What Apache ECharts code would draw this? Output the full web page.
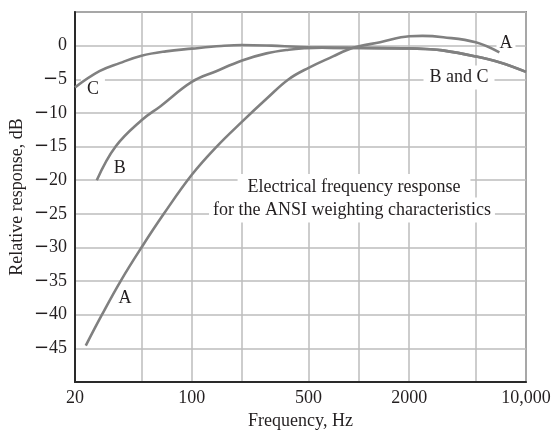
<!DOCTYPE html>
<html><head><meta charset="utf-8">
<script src="https://cdn.jsdelivr.net/npm/echarts@6/dist/echarts.min.js"></script>
<style>html,body{margin:0;padding:0;background:#fff}#c{width:553px;height:432px}</style>
</head><body><div id="c"></div>
<script>
// Frequency (Hz) and relative response (dB)
const freqA = [23.2, 29, 37.5, 50, 68, 100, 141, 200, 280, 380, 500, 700, 850, 1000, 1340, 2000, 2400, 3200, 5000, 6930];
const dbA   = [-44.6, -40, -35, -30, -25, -19.2, -15, -11.3, -7.9, -5, -3.3, -1.6, -0.65, -0.1, 0.5, 1.4, 1.45, 1.25, 0.5, -1.0];

const freqB = [27, 35, 50, 65, 100, 140, 200, 280, 380, 480];
const dbB   = [-20, -15, -11.1, -9.0, -5.4, -3.8, -2.2, -1.15, -0.6, -0.38];

const freqC = [20, 28, 37, 50, 70, 100, 150, 200, 300, 420];
const dbC   = [-6.2, -3.8, -2.6, -1.5, -0.85, -0.45, -0.05, 0.1, 0.0, -0.17];

// shared high-frequency part of curves B and C
const freqBC = [600, 1000, 2000, 2500, 3170, 5000, 7000, 10000];
const dbBC   = [-0.3, -0.35, -0.4, -0.5, -0.7, -1.6, -2.5, -3.9];

const xGridValues  = [20, 50, 100, 200, 500, 1000, 2000, 5000, 10000];
const xLabelValues = [20, 100, 500, 2000, 10000];
const yLabelMin = -45, yLabelMax = 0;

const annotationTexts = ['C', 'B', 'A', 'A', 'B and C',
  'Electrical frequency response', 'for the ANSI weighting characteristics'];

const FONT = "'Liberation Serif','Times New Roman',serif";
const TXT = '#231f20';
const zip = (f, d) => f.map((v, i) => [v, d[i]]);

function ann(text, coord, bg, pad) {
  return {
    coord: coord, symbol: 'circle', symbolSize: 0,
    label: {
      show: true, position: 'inside', formatter: text,
      fontFamily: FONT, fontSize: 18, color: TXT,
      backgroundColor: bg ? '#fff' : 'transparent', padding: pad || 0
    }
  };
}

const lineStyle = { color: '#808080', width: 2.6 };
const chart = echarts.init(document.getElementById('c'), null, { renderer: 'canvas' });
chart.setOption({
  animation: false,
  backgroundColor: '#fff',
  grid: { left: 75, right: 27, top: 12, bottom: 50, outerBoundsMode: 'none', containLabel: false,
    show: true, borderColor: '#3a3a3a', borderWidth: 1.5, backgroundColor: 'transparent' },
  xAxis: {
    type: 'log', logBase: 10, min: 20, max: 10000,
    name: 'Frequency, Hz', nameLocation: 'middle', nameGap: 23,
    nameTextStyle: { fontFamily: FONT, fontSize: 18, color: TXT },
    axisLine: { onZero: false, lineStyle: { color: '#2a2a2a', width: 2 } },
    axisTick: { show: false, customValues: xGridValues },
    splitLine: { show: true, lineStyle: { color: '#bdbdbd', width: 1.5 } },
    minorTick: { show: false }, minorSplitLine: { show: false },
    axisLabel: {
      customValues: xLabelValues, margin: 7,
      fontFamily: FONT, fontSize: 18, color: TXT,
      formatter: v => v >= 10000 ? '10,000' : String(Math.round(v))
    }
  },
  yAxis: {
    type: 'value', min: -50, max: 5, interval: 5,
    name: 'Relative response, dB', nameLocation: 'middle', nameGap: 49, nameMoveOverlap: false,
    nameTextStyle: { fontFamily: FONT, fontSize: 18, color: TXT },
    axisLine: { show: true, onZero: false, lineStyle: { color: '#2a2a2a', width: 2 } },
    axisTick: { show: false },
    splitLine: { show: true, lineStyle: { color: '#bdbdbd', width: 1.5 } },
    axisLabel: {
      margin: 8, fontFamily: FONT, fontSize: 18, color: TXT,
      formatter: v => (v > yLabelMax || v < yLabelMin) ? '' : (v < 0 ? '{m|\u2212}' + Math.abs(v) : String(v)),
      rich: { m: { fontFamily: "'DejaVu Sans',sans-serif", fontSize: 18, color: TXT } }
    }
  },
  series: [
    { type: 'line', name: 'A', data: zip(freqA, dbA), smooth: 0.4, showSymbol: false, symbol: 'none', z: 3, lineStyle: lineStyle,
      markPoint: { z: 1, data: [
        ann(annotationTexts[2], [39.8, -37.6], false),
        ann(annotationTexts[3], [7590, 0.4], true, [2, 3, 2, 3]),
        ann(annotationTexts[5], [935, -21.0], true, [4, 10, 4, 10]),
        ann(annotationTexts[6], [909, -24.45], true, [3, 4, 4, 4])
      ] } },
    { type: 'line', name: 'B', data: zip(freqB.concat(freqBC), dbB.concat(dbBC)), smooth: 0.4, showSymbol: false, symbol: 'none', z: 3, lineStyle: lineStyle,
      markPoint: { z: 1, data: [
        ann(annotationTexts[1], [37.1, -18.2], false),
        ann(annotationTexts[4], [3972, -4.73], true, [3, 6, 3, 6])
      ] } },
    { type: 'line', name: 'C', data: zip(freqC.concat(freqBC), dbC.concat(dbBC)), smooth: 0.4, showSymbol: false, symbol: 'none', z: 3, lineStyle: lineStyle,
      markPoint: { z: 1, data: [
        ann(annotationTexts[0], [25.6, -6.45], true, [6, 6, 4, 6])
      ] } }
  ]
});
</script></body></html>
